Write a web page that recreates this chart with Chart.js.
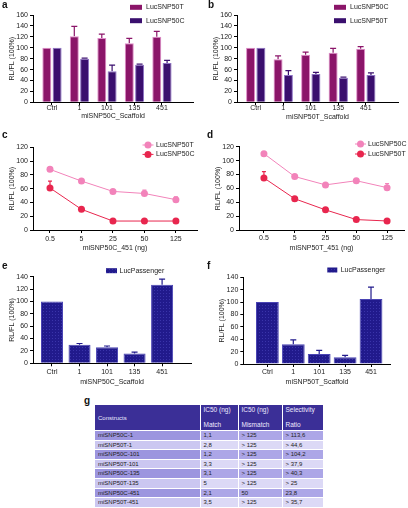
<!DOCTYPE html>
<html>
<head>
<meta charset="utf-8">
<script src="https://cdn.jsdelivr.net/npm/chart.js@4.4.1/dist/chart.umd.min.js"></script>
<style>
  body { margin: 0; background: #fff; font-family: "Liberation Sans", Arial, sans-serif; }
  #fig { position: relative; width: 408px; height: 508px; overflow: hidden; }
  canvas { position: absolute; }
  .tag { position: absolute; font-weight: bold; font-size: 10px; line-height: 10px; color: #111; }
  #tbl { position: absolute; left: 95px; top: 405px; width: 228px; border-collapse: collapse;
         font-size: 6px; color: #222; table-layout: fixed; }
  #tbl th { background: #3b2f97; color: #eeeaff; font-weight: normal; text-align: left;
            padding: 0 0 0 3px; height: 25px; vertical-align: top; border-right: 1px solid #fff; }
  #tbl th.mid { vertical-align: middle; }
  #tbl th .l1 { height: 10px; line-height: 10px; font-size: 6.5px; }
  #tbl th .l2 { height: 10px; line-height: 10px; margin-top: 5px; font-size: 6.5px; }
  #tbl td { height: 8.6px; line-height: 8.6px; padding: 0 0 0 3px; border: 1px solid #fff;
            border-left: none; white-space: nowrap; }
  #tbl tr.odd td { background: #aca6e7; }
  #tbl tr.odd td.c0 { background: #9c95df; }
  #tbl tr.even td { background: #dcd9f6; }
  #tbl tr.even td.c0 { background: #cbc7f1; }
</style>
</head>
<body>
<div id="fig">
  <canvas id="chartA"></canvas>
  <canvas id="chartB"></canvas>
  <canvas id="chartC"></canvas>
  <canvas id="chartD"></canvas>
  <canvas id="chartE"></canvas>
  <canvas id="chartF"></canvas>
  <div class="tag" style="left:2px;top:0px">a</div>
  <div class="tag" style="left:208px;top:0px">b</div>
  <div class="tag" style="left:2px;top:130px">c</div>
  <div class="tag" style="left:207px;top:130px">d</div>
  <div class="tag" style="left:2px;top:261px">e</div>
  <div class="tag" style="left:207px;top:261px">f</div>
  <div class="tag" style="left:84px;top:396px">g</div>
  <table id="tbl"></table>
</div>
<script>
// ---- data ----
const scaffoldCats = ['Ctrl', '1', '101', '135', '451'];
const doseCats = ['0.5', '5', '25', '50', '125'];

// a: miSNP50C_Scaffold
const aSnp50T = [100, 121, 118, 108, 120];
const aSnp50TErr = [0, 18, 7, 9, 10];
const aSnp50C = [100, 80, 57, 69, 72];
const aSnp50CErr = [0, 1, 11, 1, 5];

// b: miSNP50T_Scaffold
const bSnp50C = [100, 79, 87, 91, 98];
const bSnp50CErr = [0, 6, 5, 8, 4];
const bSnp50T = [100, 50, 52, 45, 50];
const bSnp50TErr = [0, 8, 3, 1, 4];

// c: miSNP50C_451 dose
const cSnp50T = [88, 71, 56, 53, 44];
const cSnp50TErr = [0, 0, 0, 5, 4];
const cSnp50C = [61, 30, 13, 13, 13];
const cSnp50CErr = [10, 0, 0, 0, 0];

// d: miSNP50T_451 dose
const dSnp50C = [110, 77, 65, 71, 61];
const dSnp50CErr = [0, 0, 0, 2, 6];
const dSnp50T = [75, 45, 29, 15, 13];
const dSnp50TErr = [9, 0, 0, 0, 0];

// e / f: passenger
const ePassenger = [100, 30, 26, 16, 127];
const ePassengerErr = [0, 2, 2, 2, 9];
const fPassenger = [100, 32, 16, 11, 105];
const fPassengerErr = [0, 7, 6, 3, 19];

// g: table
const tHead = [['Constructs'], ['IC50 (ng)', 'Match'], ['IC50 (ng)', 'Mismatch'], ['Selectivity', 'Ratio']];
const tConstructs = ['miSNP50C-1', 'miSNP50T-1', 'miSNP50C-101', 'miSNP50T-101',
                     'miSNP50C-135', 'miSNP50T-135', 'miSNP50C-451', 'miSNP50T-451'];
const tMatch = ['1,1', '2,8', '1,2', '3,3', '3,1', '5', '2,1', '3,5'];
const tMismatch = ['> 125', '> 125', '> 125', '> 125', '> 125', '> 125', '50', '> 125'];
const tRatio = ['> 113,6', '> 44,6', '> 104,2', '> 37,9', '> 40,3', '> 25', '23,8', '> 35,7'];

// ---- styling ----
const MAGENTA = '#8b1569';
const PURPLE = '#3a0f6e';
const PINK = '#f283ba';
const RED = '#e8264e';
const FONT = { family: '"Liberation Sans", Arial, sans-serif', size: 7 };
const Y_W = 26;

Chart.defaults.font.family = FONT.family;
Chart.defaults.color = '#222';

function dotPattern(base, dot) {
  const c = document.createElement('canvas');
  c.width = 3; c.height = 3;
  const g = c.getContext('2d');
  g.fillStyle = base; g.fillRect(0, 0, 3, 3);
  g.fillStyle = dot; g.fillRect(1, 1, 1, 1);
  return g.createPattern(c, 'repeat');
}
const NAVY = dotPattern('#211a8c', '#3a34aa');

// upper error bars, drawn through the y scale
const errorBars = {
  id: 'errorBars',
  beforeDatasetsDraw(chart) {
    const ctx = chart.ctx, ys = chart.scales.y;
    chart.data.datasets.forEach((ds, di) => {
      if (!ds.errors) return;
      const meta = chart.getDatasetMeta(di);
      ctx.save();
      ctx.strokeStyle = ds.errColor;
      ctx.lineWidth = 1.2;
      meta.data.forEach((el, i) => {
        const e = ds.errors[i];
        if (!e) return;
        const v = ds.data[i].y;
        const y0 = ys.getPixelForValue(v), y1 = ys.getPixelForValue(v + e);
        ctx.beginPath();
        ctx.moveTo(el.x, y0); ctx.lineTo(el.x, y1);
        ctx.moveTo(el.x - ds.capWidth / 2, y1); ctx.lineTo(el.x + ds.capWidth / 2, y1);
        ctx.stroke();
      });
      ctx.restore();
    });
  }
};

// small legend in the upper right corner
const cornerLegend = {
  id: 'cornerLegend',
  afterDraw(chart, args, o) {
    const ctx = chart.ctx;
    chart.data.datasets.forEach((ds, i) => {
      const cy = o.y + i * o.dy;
      ctx.save();
      if (o.kind === 'box') {
        ctx.fillStyle = ds.backgroundColor;
        ctx.fillRect(o.x, cy - 2.5, o.w, 5);
      } else {
        ctx.strokeStyle = ds.borderColor;
        ctx.lineWidth = 1;
        ctx.beginPath(); ctx.moveTo(o.x, cy); ctx.lineTo(o.x + o.w, cy); ctx.stroke();
        ctx.fillStyle = ds.backgroundColor;
        ctx.beginPath(); ctx.arc(o.x + o.w / 2, cy, 3.5, 0, Math.PI * 2); ctx.fill();
      }
      ctx.fillStyle = '#222';
      ctx.font = '7px ' + FONT.family;
      ctx.textBaseline = 'middle';
      ctx.fillText(ds.label, o.x + o.w + o.gap, cy);
      ctx.restore();
    });
  }
};

function pts(values) {
  return values.map((v, i) => ({ x: i, y: v }));
}

function barSet(label, values, errors, color, border) {
  return { label, data: pts(values), errors, errColor: border ? color : color, capWidth: 6,
           backgroundColor: color, borderColor: border, borderWidth: 1 };
}

function lineSet(label, values, errors, color) {
  return { label, data: pts(values), errors, errColor: color, capWidth: 4,
           borderColor: color, backgroundColor: color, borderWidth: 1,
           pointRadius: 3.5, pointBorderWidth: 0, pointBackgroundColor: color };
}

function panelChart(id, box, plot, opt) {
  const cv = document.getElementById(id);
  cv.width = box.w; cv.height = box.h;
  cv.style.left = box.x + 'px';
  cv.style.top = box.y + 'px';
  const xH = opt.titleGap + 4.2;
  return new Chart(cv, {
    type: opt.type,
    data: { datasets: opt.datasets },
    options: {
      responsive: false,
      animation: false,
      devicePixelRatio: 1,
      categoryPercentage: opt.catPct,
      barPercentage: opt.barPct,
      layout: { padding: {
        left: plot.l - box.x - Y_W,
        right: box.x + box.w - plot.r,
        top: plot.t - box.y,
        bottom: box.y + box.h - plot.b - xH
      } },
      plugins: { legend: { display: false }, tooltip: { enabled: false }, cornerLegend: opt.legend },
      scales: {
        x: {
          type: 'linear', min: opt.xMin, max: opt.xMax, offset: false,
          afterFit: s => { s.height = xH; },
          afterBuildTicks: s => { s.ticks = opt.cats.map((c, i) => ({ value: i })); },
          ticks: { callback: v => opt.cats[v], font: FONT, padding: opt.tickGap - 7.2,
                   autoSkip: false, maxRotation: 0 },
          grid: { drawOnChartArea: false, tickLength: 3, color: '#000', offset: false },
          border: { color: '#000', width: 1 },
          title: { display: true, text: opt.xTitle, font: FONT, padding: 0 }
        },
        y: {
          min: 0, max: opt.yMax,
          afterFit: s => { s.width = Y_W; },
          ticks: { stepSize: 20, autoSkip: false, font: FONT, padding: 2 },
          grid: { drawOnChartArea: false, tickLength: 3, color: '#000' },
          border: { color: '#000', width: 1 },
          title: { display: true, text: 'RL/FL (100%)', font: FONT, padding: { top: 0.5, bottom: 0 } }
        }
      }
    },
    plugins: [errorBars, cornerLegend]
  });
}

// a
panelChart('chartA', { x: 0, y: 0, w: 204, h: 130 }, { l: 33, r: 193, t: 15, b: 102.3 }, {
  type: 'bar', cats: scaffoldCats, xMin: -0.69, xMax: 5.13, yMax: 160,
  tickGap: 6, titleGap: 13.7, xTitle: 'miSNP50C_Scaffold', catPct: 0.75, barPct: 0.87,
  legend: { kind: 'box', x: 130, y: 7.3, dy: 13.4, w: 12, gap: 4 },
  datasets: [
    barSet('LucSNP50T', aSnp50T, aSnp50TErr, MAGENTA, '#e08ac8'),
    barSet('LucSNP50C', aSnp50C, aSnp50CErr, PURPLE, '#8d72c4')
  ]
});

// b
panelChart('chartB', { x: 204, y: 0, w: 204, h: 130 }, { l: 237, r: 398, t: 15, b: 102.3 }, {
  type: 'bar', cats: scaffoldCats, xMin: -0.68, xMax: 5.17, yMax: 160,
  tickGap: 6, titleGap: 14.4, xTitle: 'miSNP50T_Scaffold', catPct: 0.75, barPct: 0.87,
  legend: { kind: 'box', x: 130, y: 7.3, dy: 13.4, w: 12, gap: 4 },
  datasets: [
    barSet('LucSNP50C', bSnp50C, bSnp50CErr, MAGENTA, '#e08ac8'),
    barSet('LucSNP50T', bSnp50T, bSnp50TErr, PURPLE, '#8d72c4')
  ]
});

// c
panelChart('chartC', { x: 0, y: 130, w: 204, h: 135 }, { l: 33, r: 197, t: 147.3, b: 230 }, {
  type: 'line', cats: doseCats, xMin: -0.54, xMax: 4.67, yMax: 120,
  tickGap: 9, titleGap: 18.3, xTitle: 'miSNP50C_451 (ng)',
  legend: { kind: 'line', x: 142.5, y: 15, dy: 9.4, w: 11, gap: 2.5 },
  datasets: [
    lineSet('LucSNP50T', cSnp50T, cSnp50TErr, PINK),
    lineSet('LucSNP50C', cSnp50C, cSnp50CErr, RED)
  ]
});

// d
panelChart('chartD', { x: 204, y: 130, w: 204, h: 135 }, { l: 239, r: 404, t: 146.7, b: 230 }, {
  type: 'line', cats: doseCats, xMin: -0.81, xMax: 4.55, yMax: 120,
  tickGap: 8.3, titleGap: 18.3, xTitle: 'miSNP50T_451 (ng)',
  legend: { kind: 'line', x: 151, y: 14, dy: 10, w: 11, gap: 2 },
  datasets: [
    lineSet('LucSNP50C', dSnp50C, dSnp50CErr, PINK),
    lineSet('LucSNP50T', dSnp50T, dSnp50TErr, RED)
  ]
});

// e
panelChart('chartE', { x: 0, y: 265, w: 204, h: 130 }, { l: 33, r: 191, t: 276.7, b: 363.3 }, {
  type: 'bar', cats: scaffoldCats, xMin: -0.69, xMax: 5.05, yMax: 140,
  tickGap: 9, titleGap: 18.4, xTitle: 'miSNP50C_Scaffold', catPct: 0.8, barPct: 1,
  legend: { kind: 'box', x: 106, y: 5.7, dy: 12, w: 11, gap: 2.5 },
  datasets: [ barSet('LucPassenger', ePassenger, ePassengerErr, NAVY, '#4a44b4') ]
});
// error color for pattern sets
Chart.getChart('chartE').data.datasets[0].errColor = '#211a8c';

// f
panelChart('chartF', { x: 204, y: 265, w: 204, h: 130 }, { l: 243.3, r: 390.7, t: 277.3, b: 364 }, {
  type: 'bar', cats: scaffoldCats, xMin: -0.93, xMax: 4.76, yMax: 140,
  tickGap: 8.3, titleGap: 18.3, xTitle: 'miSNP50T_Scaffold', catPct: 0.88, barPct: 1,
  legend: { kind: 'box', x: 123.3, y: 5, dy: 12, w: 10, gap: 3.4 },
  datasets: [ barSet('LucPassenger', fPassenger, fPassengerErr, NAVY, '#4a44b4') ]
});
Chart.getChart('chartF').data.datasets[0].errColor = '#211a8c';
Chart.getChart('chartE').update();
Chart.getChart('chartF').update();

// g: table
const tbl = document.getElementById('tbl');
const colW = [105, 38, 44, 41];
let html = '<colgroup>' + colW.map(w => '<col style="width:' + w + 'px">').join('') + '</colgroup><tr>';
tHead.forEach(h => {
  if (h.length === 1) html += '<th class="mid">' + h[0] + '</th>';
  else html += '<th><div class="l1">' + h[0] + '</div><div class="l2">' + h[1] + '</div></th>';
});
html += '</tr>';
tConstructs.forEach((c, i) => {
  html += '<tr class="' + (i % 2 === 0 ? 'odd' : 'even') + '">' +
    '<td class="c0">' + c + '</td><td>' + tMatch[i] + '</td><td>' + tMismatch[i] +
    '</td><td>' + tRatio[i] + '</td></tr>';
});
tbl.innerHTML = html;
</script>
</body>
</html>
